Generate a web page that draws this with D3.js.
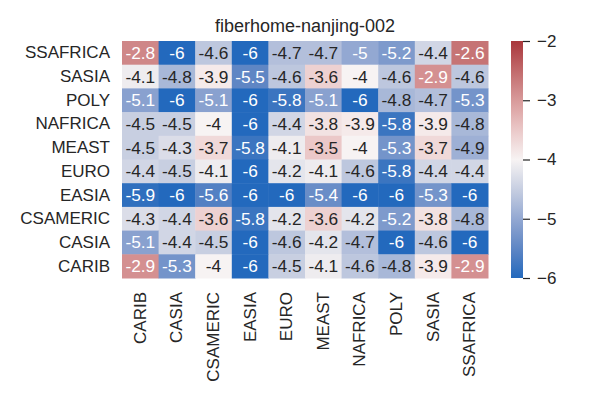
<!DOCTYPE html>
<html>
<head>
    <meta charset="utf-8">
    <title>fiberhome-nanjing-002</title>
    <script src="https://cdnjs.cloudflare.com/ajax/libs/d3/7.8.5/d3.min.js"></script>
    <style>
        body { margin: 0; background: #fff; }
        svg text { font-family: "Liberation Sans", Arial, sans-serif; fill: #262626; }
    </style>
</head>
<body>
    <svg id="chart" width="600" height="400"></svg>
    <script>
        // rows top to bottom, columns left to right
        var rowNames = ["SSAFRICA", "SASIA", "POLY", "NAFRICA", "MEAST", "EURO", "EASIA", "CSAMERIC", "CASIA", "CARIB"];
        var colNames = ["CARIB", "CASIA", "CSAMERIC", "EASIA", "EURO", "MEAST", "NAFRICA", "POLY", "SASIA", "SSAFRICA"];

        var ssafrica = [-2.8, -6, -4.6, -6, -4.7, -4.7, -5, -5.2, -4.4, -2.6];
        var sasia    = [-4.1, -4.8, -3.9, -5.5, -4.6, -3.6, -4, -4.6, -2.9, -4.6];
        var poly     = [-5.1, -6, -5.1, -6, -5.8, -5.1, -6, -4.8, -4.7, -5.3];
        var nafrica  = [-4.5, -4.5, -4, -6, -4.4, -3.8, -3.9, -5.8, -3.9, -4.8];
        var meast    = [-4.5, -4.3, -3.7, -5.8, -4.1, -3.5, -4, -5.3, -3.7, -4.9];
        var euro     = [-4.4, -4.5, -4.1, -6, -4.2, -4.1, -4.6, -5.8, -4.4, -4.4];
        var easia    = [-5.9, -6, -5.6, -6, -6, -5.4, -6, -6, -5.3, -6];
        var csameric = [-4.3, -4.4, -3.6, -5.8, -4.2, -3.6, -4.2, -5.2, -3.8, -4.8];
        var casia    = [-5.1, -4.4, -4.5, -6, -4.6, -4.2, -4.7, -6, -4.6, -6];
        var carib    = [-2.9, -5.3, -4, -6, -4.5, -4.1, -4.6, -4.8, -3.9, -2.9];

        var rowValues = [ssafrica, sasia, poly, nafrica, meast, euro, easia, csameric, casia, carib];
        var cbarTicks = [-2, -3, -4, -5, -6];

        var cells = [];
        rowValues.forEach(function(vals, i) {
            vals.forEach(function(v, j) {
                cells.push({ row: rowNames[i], col: colNames[j], value: v });
            });
        });

        var svg = d3.select("#chart");

        var x = d3.scaleBand().domain(colNames).range([122, 488]);
        var y = d3.scaleBand().domain(rowNames).range([41, 278]);

        // approximation of seaborn "vlag"
        var color = d3.scaleLinear()
            .domain([-6, -5.5, -5, -4.5, -4, -3.5, -3, -2.5, -2])
            .range(["#2369bd", "#5f86c4", "#93a8d2", "#c8cfe1", "#f7f3f3", "#ebc8c8", "#d89a9a", "#c26a6c", "#a9373b"])
            .clamp(true);

        function luminance(c) {
            var rgb = d3.rgb(c);
            var f = function(v) {
                v = v / 255;
                return v <= 0.03928 ? v / 12.92 : Math.pow((v + 0.055) / 1.055, 2.4);
            };
            return 0.2126 * f(rgb.r) + 0.7152 * f(rgb.g) + 0.0722 * f(rgb.b);
        }

        svg.append("g").selectAll("rect")
            .data(cells)
            .enter()
            .append("rect")
            .attr("x", function(d) { return x(d.col); })
            .attr("y", function(d) { return y(d.row); })
            .attr("width", x.bandwidth() + 0.5)
            .attr("height", y.bandwidth() + 0.5)
            .attr("fill", function(d) { return color(d.value); });

        svg.append("g").selectAll("text")
            .data(cells)
            .enter()
            .append("text")
            .attr("x", function(d) { return x(d.col) + x.bandwidth() / 2; })
            .attr("y", function(d) { return y(d.row) + y.bandwidth() / 2; })
            .attr("text-anchor", "middle")
            .attr("dominant-baseline", "central")
            .style("font-size", "17.3px")
            .style("fill", function(d) { return luminance(color(d.value)) > 0.408 ? "#262626" : "#ffffff"; })
            .text(function(d) { return d.value; });

        // row labels
        svg.append("g").selectAll("text")
            .data(rowNames)
            .enter()
            .append("text")
            .attr("x", 110)
            .attr("y", function(d) { return y(d) + y.bandwidth() / 2; })
            .attr("text-anchor", "end")
            .attr("dominant-baseline", "central")
            .style("font-size", "17px")
            .text(function(d) { return d; });

        // column labels
        svg.append("g").selectAll("text")
            .data(colNames)
            .enter()
            .append("text")
            .attr("transform", function(d) { return "translate(" + (x(d) + x.bandwidth() / 2) + ",292) rotate(-90)"; })
            .attr("text-anchor", "end")
            .attr("dominant-baseline", "central")
            .style("font-size", "17px")
            .text(function(d) { return d; });

        svg.append("text")
            .attr("x", 305)
            .attr("y", 32)
            .attr("text-anchor", "middle")
            .style("font-size", "18px")
            .text("fiberhome-nanjing-002");

        // colorbar
        var cy = d3.scaleLinear().domain([-6, -2]).range([278, 41]);
        var grad = svg.append("defs").append("linearGradient")
            .attr("id", "cbar")
            .attr("x1", 0).attr("y1", 1).attr("x2", 0).attr("y2", 0);
        grad.selectAll("stop")
            .data(d3.range(0, 1.0001, 0.05))
            .enter()
            .append("stop")
            .attr("offset", function(t) { return t; })
            .attr("stop-color", function(t) { return color(-6 + 4 * t); });

        svg.append("rect")
            .attr("x", 511)
            .attr("y", 41)
            .attr("width", 12)
            .attr("height", 237)
            .attr("fill", "url(#cbar)");

        var axis = d3.axisRight(cy)
            .tickValues(cbarTicks)
            .tickSize(7)
            .tickPadding(7)
            .tickFormat(function(d) { return "\u2212" + Math.abs(d); });

        var ag = svg.append("g")
            .attr("transform", "translate(523,0)")
            .call(axis);
        ag.select(".domain").remove();
        ag.selectAll(".tick line").attr("stroke", "#262626").attr("stroke-width", 1.2);
        ag.selectAll(".tick text")
            .style("font-size", "17px")
            .style("font-family", "'Liberation Sans', Arial, sans-serif")
            .attr("fill", "#262626");
    </script>
</body>
</html>
